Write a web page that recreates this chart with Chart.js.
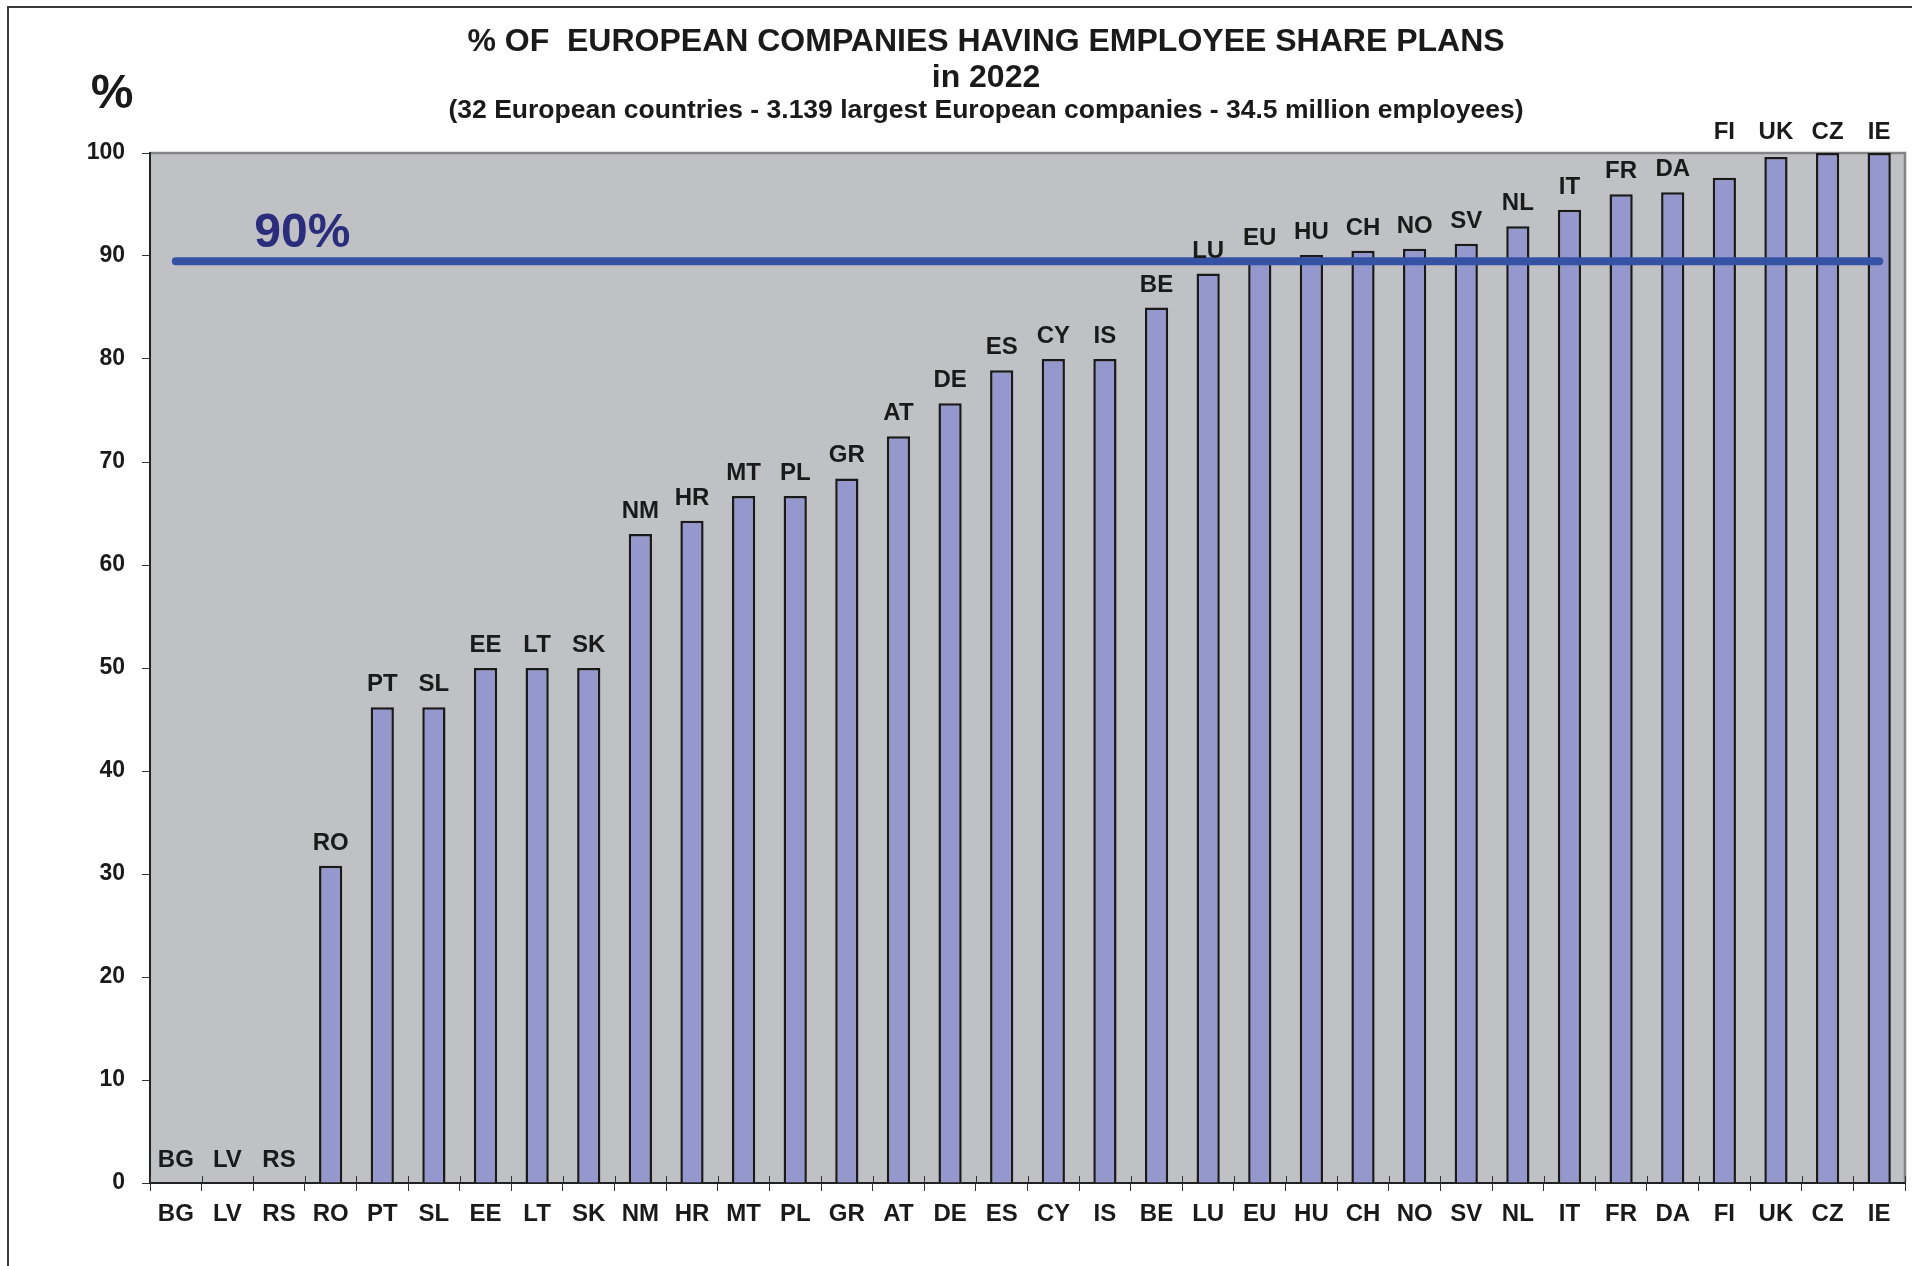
<!DOCTYPE html>
<html>
<head>
<meta charset="utf-8">
<script src="https://cdn.jsdelivr.net/npm/chart.js@4.4.1/dist/chart.umd.min.js"></script>
<style>
  html, body { margin: 0; padding: 0; background: #ffffff; }
  #wrap { width: 1912px; height: 1266px; position: relative; }
  canvas { display: block; }
</style>
</head>
<body>
<div id="wrap"><canvas id="c" width="1912" height="1266"></canvas></div>
<script>
// ---- Data ----
const categories = ['BG','LV','RS','RO','PT','SL','EE','LT','SK','NM','HR','MT','PL','GR','AT','DE','ES','CY','IS','BE','LU','EU','HU','CH','NO','SV','NL','IT','FR','DA','FI','UK','CZ','IE'];
const sharePlanPct = [0,0,0,30.8,46.2,46.2,50,50,50,63,64.3,66.7,66.7,68.4,72.5,75.7,78.9,80,80,85,88.3,89.5,90.1,90.5,90.7,91.2,92.9,94.5,96,96.2,97.6,99.6,100,100];
const referenceLine = [89.5,89.5,89.5,89.5,89.5,89.5,89.5,89.5,89.5,89.5,89.5,89.5,89.5,89.5,89.5,89.5,89.5,89.5,89.5,89.5,89.5,89.5,89.5,89.5,89.5,89.5,89.5,89.5,89.5,89.5,89.5,89.5,89.5,89.5];
const yTicks = [0,10,20,30,40,50,60,70,80,90,100];
const titleLines = ['% OF  EUROPEAN COMPANIES HAVING EMPLOYEE SHARE PLANS', 'in 2022'];
const subtitleText = '(32 European countries - 3.139 largest European companies - 34.5 million employees)';
const yUnitLabel = '%';
const referenceLabel = '90%';

const FONT = "'Liberation Sans', Arial, Helvetica, sans-serif";
Chart.defaults.font.family = FONT;

const decorPlugin = {
  id: 'decor',
  beforeDraw(chart) {
    const ctx = chart.ctx;
    const a = chart.chartArea;
    ctx.save();
    ctx.fillStyle = '#ffffff';
    ctx.fillRect(0, 0, chart.width, chart.height);
    // outer frame (top + left)
    ctx.strokeStyle = '#3a3a3a';
    ctx.lineWidth = 2;
    ctx.beginPath();
    ctx.moveTo(8, chart.height);
    ctx.lineTo(8, 7);
    ctx.lineTo(chart.width, 7);
    ctx.stroke();
    // plot background
    ctx.fillStyle = '#c0c1c5';
    ctx.fillRect(a.left, a.top, a.right - a.left, a.bottom - a.top);
    // gray top/right border
    ctx.strokeStyle = '#858585';
    ctx.lineWidth = 2.5;
    ctx.beginPath();
    ctx.moveTo(a.left, a.top);
    ctx.lineTo(a.right, a.top);
    ctx.lineTo(a.right, a.bottom);
    ctx.stroke();
    // titles
    ctx.fillStyle = '#1a1a1a';
    ctx.textAlign = 'center';
    ctx.textBaseline = 'alphabetic';
    const cx = 986;
    ctx.font = 'bold 32px ' + FONT;
    ctx.fillText(titleLines[0], cx, 51);
    ctx.fillText(titleLines[1], cx, 87);
    ctx.font = 'bold 26.5px ' + FONT;
    ctx.fillText(subtitleText, cx, 118);
    // % unit label
    ctx.font = 'bold 48px ' + FONT;
    ctx.fillText(yUnitLabel, 112, 108);
    ctx.restore();
  },
  afterDatasetsDraw(chart) {
    const ctx = chart.ctx;
    const a = chart.chartArea;
    const meta = chart.getDatasetMeta(1);
    ctx.save();
    ctx.font = 'bold 24px ' + FONT;
    ctx.fillStyle = '#1a1a1a';
    ctx.textAlign = 'center';
    ctx.textBaseline = 'alphabetic';
    const capH = 17.5;
    meta.data.forEach((bar, i) => {
      let base = bar.y - 16;
      if (base - capH < a.top + 2) base = a.top - 14;
      ctx.fillText(categories[i], bar.x, base);
    });
    // reference label
    const xs = chart.scales.x, ys = chart.scales.y;
    ctx.font = 'bold 48px ' + FONT;
    ctx.fillStyle = '#2a2c7c';
    ctx.fillText(referenceLabel, xs.getPixelForValue(2.45), ys.getPixelForValue(referenceLine[0]) - 14);
    // small tick marks crossing into plot on the x axis
    ctx.strokeStyle = '#333333';
    ctx.lineWidth = 1;
    for (let i = 0; i <= categories.length; i++) {
      const x = Math.round(a.left + (a.right - a.left) * i / categories.length) + 0.5;
      ctx.beginPath();
      ctx.moveTo(x, a.bottom);
      ctx.lineTo(x, a.bottom - 7);
      ctx.stroke();
    }
    ctx.restore();
  }
};

new Chart(document.getElementById('c'), {
  type: 'bar',
  data: {
    labels: categories,
    datasets: [
      {
        type: 'line',
        label: '90%',
        data: referenceLine,
        borderColor: '#3652a5',
        borderWidth: 8,
        borderCapStyle: 'round',
        pointRadius: 0,
        fill: false,
        order: 0
      },
      {
        type: 'bar',
        label: 'Share plans',
        data: sharePlanPct,
        backgroundColor: '#9598cc',
        borderColor: '#1a1a1a',
        borderWidth: 2.5,
        borderSkipped: 'bottom',
        categoryPercentage: 1,
        barPercentage: 0.45,
        order: 1
      }
    ]
  },
  options: {
    responsive: false,
    animation: false,
    events: [],
    layout: { padding: { left: 0, right: 7, top: 153, bottom: 0 } },
    plugins: {
      legend: { display: false },
      title: { display: false },
      tooltip: { enabled: false }
    },
    scales: {
      x: {
        afterFit(scale) { scale.height = 83; },
        grid: { offset: true, drawOnChartArea: false, drawTicks: true, tickLength: 8, color: '#333333' },
        border: { display: true, color: '#222222', width: 2 },
        ticks: { color: '#1a1a1a', font: { size: 24, weight: 'bold' }, padding: 9, maxRotation: 0, autoSkip: false }
      },
      y: {
        min: 0,
        max: 100,
        afterFit(scale) { scale.width = 150; },
        afterBuildTicks(scale) { scale.ticks = yTicks.map(v => ({ value: v })); },
        grid: { drawOnChartArea: false, drawTicks: true, tickLength: 8, color: '#333333' },
        border: { display: true, color: '#222222', width: 2 },
        ticks: { color: '#1a1a1a', font: { size: 23, weight: 'bold' }, padding: 17 }
      }
    }
  },
  plugins: [decorPlugin]
});
</script>
</body>
</html>
